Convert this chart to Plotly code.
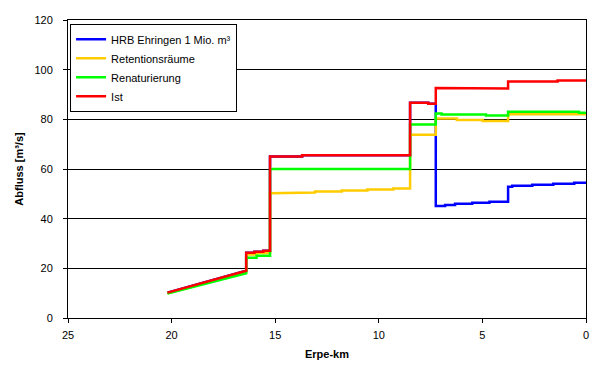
import plotly.graph_objects as go

# Ist (red)
ist_km = [20.2, 16.4, 16.4, 16.0, 16.0, 15.57, 15.57, 15.25, 15.25, 13.7, 13.7, 8.49, 8.49, 7.61, 7.61, 7.25, 7.25, 5.87, 5.87, 3.76, 3.76, 1.37, 1.37, 0.0]
ist_q = [10.2, 19.0, 26.3, 26.3, 26.7, 26.7, 27.1, 27.1, 65.0, 65.0, 65.5, 65.5, 86.7, 86.7, 86.3, 86.3, 92.6, 92.6, 92.4, 92.4, 95.2, 95.2, 95.6, 95.6]

# Renaturierung (green)
ren_km = [20.2, 16.4, 16.4, 15.9, 15.9, 15.25, 15.25, 8.49, 8.49, 7.25, 7.25, 6.97, 6.97, 4.83, 4.83, 3.76, 3.76, 0.34, 0.34, 0.0]
ren_q = [9.9, 18.0, 24.3, 24.3, 25.1, 25.1, 60.0, 60.0, 77.9, 77.9, 82.3, 82.3, 81.9, 81.9, 81.5, 81.5, 83.1, 83.1, 82.7, 82.7]

# Retentionsräume (yellow)
ret_km = [20.2, 16.4, 16.4, 15.9, 15.9, 15.25, 15.25, 14.32, 14.32, 13.08, 13.08, 11.79, 11.79, 10.55, 10.55, 9.3, 9.3, 8.49, 8.49, 7.25, 7.25, 6.23, 6.23, 4.99, 4.99, 3.76, 3.76, 0.0]
ret_q = [10.0, 18.5, 25.6, 25.6, 26.2, 26.2, 50.2, 50.2, 50.5, 50.5, 50.9, 50.9, 51.3, 51.3, 51.7, 51.7, 52.1, 52.1, 73.8, 73.8, 80.3, 80.3, 79.7, 79.7, 79.3, 79.3, 82.0, 82.0]

# HRB Ehringen 1 Mio. m³ (blue) - identical to Ist upstream of km 7.25
hrb_km = [20.2, 16.4, 16.4, 16.0, 16.0, 15.57, 15.57, 15.25, 15.25, 13.7, 13.7, 8.49, 8.49, 7.61, 7.61, 7.25, 7.25, 6.8, 6.8, 6.32, 6.32, 5.49, 5.49, 4.66, 4.66, 3.76, 3.76, 3.56, 3.56, 2.59, 2.59, 1.58, 1.58, 0.57, 0.57, 0.0]
hrb_q = [10.2, 19.0, 26.3, 26.3, 26.7, 26.7, 27.1, 27.1, 65.0, 65.0, 65.5, 65.5, 86.7, 86.7, 86.3, 86.3, 45.1, 45.1, 45.5, 45.5, 46.0, 46.0, 46.4, 46.4, 46.8, 46.8, 52.9, 52.9, 53.3, 53.3, 53.7, 53.7, 54.1, 54.1, 54.5, 54.5]

x_ticks = [25, 20, 15, 10, 5, 0]
y_ticks = [0, 20, 40, 60, 80, 100, 120]

FONT = "Liberation Sans, Arial, sans-serif"

fig = go.Figure()
series = [
    ("HRB Ehringen 1 Mio. m³", hrb_km, hrb_q, "#0000FF"),
    ("Retentionsräume", ret_km, ret_q, "#FFCC00"),
    ("Renaturierung", ren_km, ren_q, "#00FF00"),
    ("Ist", ist_km, ist_q, "#FF0000"),
]
for name, xs, ys, col in series:
    fig.add_trace(go.Scatter(x=xs, y=ys, mode="lines", name=name,
                             line=dict(color=col, width=2.5)))

fig.update_layout(
    width=604, height=375,
    margin=dict(l=68, r=18, t=20, b=57),
    paper_bgcolor="white", plot_bgcolor="white",
    font=dict(family=FONT, size=11, color="black"),
    showlegend=True,
    legend=dict(x=0.004, y=0.987, xanchor="left", yanchor="top",
                bgcolor="white", bordercolor="black", borderwidth=1,
                font=dict(family=FONT, size=11, color="black"),
                tracegroupgap=0, itemwidth=30),
    xaxis=dict(range=[25, 0], tickvals=x_ticks, ticktext=[str(v) for v in x_ticks],
               showgrid=False, zeroline=False, showline=True, linecolor="black",
               linewidth=1, mirror=True, ticks="outside", ticklen=4, tickcolor="black",
               ticklabelstandoff=3,
               title=dict(text="<b>Erpe-km</b>", font=dict(family=FONT, size=11), standoff=10)),
    yaxis=dict(range=[0, 120], tickvals=y_ticks, ticktext=[str(v) for v in y_ticks],
               showgrid=True, gridcolor="black", gridwidth=1, zeroline=False,
               showline=True, linecolor="black", linewidth=1, mirror=True,
               ticks="outside", ticklen=4, tickcolor="black",
               ticklabelstandoff=8,
               title=dict(text="<b>Abfluss [m³/s]</b>", font=dict(family=FONT, size=11), standoff=8)),
)

fig.write_html("out.html")
